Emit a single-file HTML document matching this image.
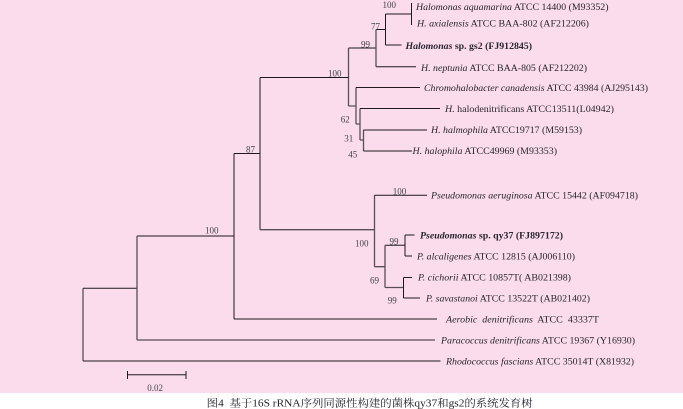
<!DOCTYPE html>
<html><head><meta charset="utf-8"><style>
html,body{margin:0;padding:0;background:#fff;width:683px;height:409px;overflow:hidden}
svg{display:block}
text{font-family:"Liberation Serif","Noto Serif CJK SC",serif;font-size:9px;fill:#2a2530}
.n{fill:#47424a}
.c{font-size:10.5px;fill:#22222c}
path{fill:none;stroke:#1f181c;stroke-width:1}
.g{stroke:#5a4e56;stroke-width:1.3}
</style></head><body>
<svg width="683" height="409" viewBox="0 0 683 409" xmlns="http://www.w3.org/2000/svg">
<rect x="0" y="0" width="683" height="393" fill="#fadcec"/>
<g>
<path d="M411.5 3V25M385.5 14H411.5M385.5 14V45M385.5 45H401.5M376 29.5H385.5M348.5 48H376M376 66.7H416"/>
<path class="g" d="M376 29.5V66.7M348.5 48V106M348.5 106H356M356 87.5V124M356 124H360M360 108.5V140M360 140H363.5M363.5 130V151"/>
<path d="M356 87.5H420M360 108.5H440M363.5 130H427M363.5 151H412M260 77.5H348.5M260 77.5V229.7"/>
<path d="M83 288.3V361" class="g"/>
<path d="M83 361H440.5M83 288.3H137M137 236H234M234 153.5V319M234 319H437M234 153.5H260"/>
<path d="M137 236V340M137 340H435M260 229.7H374.5M374.5 195.3V266.7M374.5 266.7H385M385 245.3V287.5M385 287.5H403.5M385 245.3H405" class="g"/>
<path d="M374.5 195.3H427M405 235V256M405 235H414.5M405 256H412M403.5 277.5V298M403.5 277.5H412M403.5 298H420"/>
<path class="g" d="M127.5 374.7H186"/>
<path d="M127.5 371V379M186 371V379"/>
</g>
<g style="filter:blur(.2px)">
<text x="416" y="10" textLength="192.5" lengthAdjust="spacingAndGlyphs"><tspan font-style="italic">Halomonas aquamarina</tspan> ATCC 14400 (M93352)</text>
<text x="417" y="26.7" textLength="172" lengthAdjust="spacingAndGlyphs"><tspan font-style="italic">H. axialensis</tspan> ATCC BAA-802 (AF212206)</text>
<text x="405.5" y="49" textLength="126.5" lengthAdjust="spacingAndGlyphs" font-weight="bold"><tspan font-style="italic">Halomonas</tspan> sp. gs2 (FJ912845)</text>
<text x="421" y="71" textLength="166" lengthAdjust="spacingAndGlyphs"><tspan font-style="italic">H. neptunia</tspan> ATCC BAA-805 (AF212202)</text>
<text x="424" y="91" textLength="224" lengthAdjust="spacingAndGlyphs"><tspan font-style="italic">Chromohalobacter canadensis</tspan> ATCC 43984 (AJ295143)</text>
<text x="445" y="112" textLength="169" lengthAdjust="spacingAndGlyphs"><tspan font-style="italic">H.</tspan> halodenitrificans ATCC13511(L04942)</text>
<text x="431" y="133" textLength="151" lengthAdjust="spacingAndGlyphs"><tspan font-style="italic">H. halmophila</tspan> ATCC19717 (M59153)</text>
<text x="412.5" y="154" textLength="144.5" lengthAdjust="spacingAndGlyphs"><tspan font-style="italic">H. halophila</tspan> ATCC49969 (M93353)</text>
<text x="431" y="198.7" textLength="207" lengthAdjust="spacingAndGlyphs"><tspan font-style="italic">Pseudomonas aeruginosa</tspan> ATCC 15442 (AF094718)</text>
<text x="420" y="238.3" textLength="143" lengthAdjust="spacingAndGlyphs" font-weight="bold"><tspan font-style="italic">Pseudomonas</tspan> sp. qy37 (FJ897172)</text>
<text x="417" y="259.3" textLength="158" lengthAdjust="spacingAndGlyphs"><tspan font-style="italic">P. alcaligenes</tspan> ATCC 12815 (AJ006110)</text>
<text x="418" y="280.7" textLength="153" lengthAdjust="spacingAndGlyphs"><tspan font-style="italic">P. cichorii</tspan> ATCC 10857T( AB021398)</text>
<text x="426" y="301.7" textLength="164" lengthAdjust="spacingAndGlyphs"><tspan font-style="italic">P. savastanoi</tspan> ATCC 13522T (AB021402)</text>
<text x="446" y="322.7" textLength="153" lengthAdjust="spacingAndGlyphs" xml:space="preserve"><tspan font-style="italic">Aerobic  denitrificans</tspan>  ATCC  43337T</text>
<text x="441" y="343.3" textLength="194" lengthAdjust="spacingAndGlyphs"><tspan font-style="italic">Paracoccus denitrificans</tspan> ATCC 19367 (Y16930)</text>
<text x="446" y="364.3" textLength="188" lengthAdjust="spacingAndGlyphs"><tspan font-style="italic">Rhodococcus fascians</tspan> ATCC 35014T (X81932)</text>

<text class="n" x="382.5" y="8">100</text>
<text class="n" x="371" y="29.3">77</text>
<text class="n" x="361" y="47.7">99</text>
<text class="n" x="328" y="76.7">100</text>
<text class="n" x="340.7" y="122.7">62</text>
<text class="n" x="344.3" y="141.7">31</text>
<text class="n" x="348.3" y="157.7">45</text>
<text class="n" x="246" y="152.7">87</text>
<text class="n" x="205" y="233.7">100</text>
<text class="n" x="392.7" y="194.7">100</text>
<text class="n" x="355" y="246.7">100</text>
<text class="n" x="389.5" y="244.7">99</text>
<text class="n" x="370" y="283.3">69</text>
<text class="n" x="387.7" y="303.3">99</text>
<text class="n" x="147.3" y="391">0.02</text>
<text class="c" x="206.7" y="406.5" textLength="326" lengthAdjust="spacingAndGlyphs" xml:space="preserve">图4  基于16S rRNA序列同源性构建的菌株qy37和gs2的系统发育树</text>
</g>
</svg>
</body></html>
